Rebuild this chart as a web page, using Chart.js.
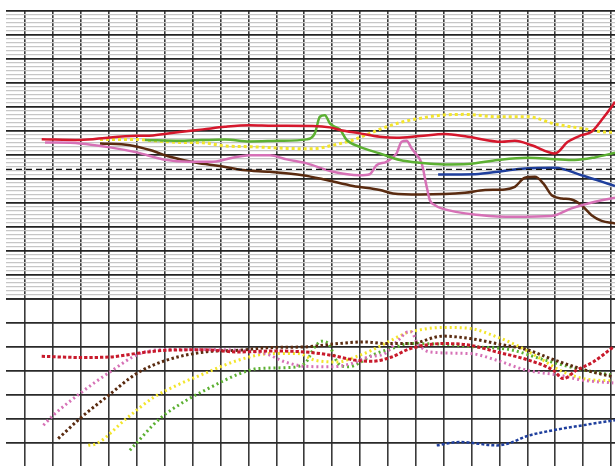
<!DOCTYPE html>
<html>
<head>
<meta charset="utf-8">
<script src="https://cdn.jsdelivr.net/npm/chart.js@4.4.1/dist/chart.umd.min.js"></script>
<style>
  html, body { margin: 0; padding: 0; background: #fff; overflow: hidden; }
  #wrap { width: 615px; height: 467px; }
</style>
</head>
<body>
<div id="wrap"><canvas id="chart" width="615" height="467"></canvas></div>
<script>
// x: grid column, top panel: minor steps (6 per heavy line), bottom panel: tens
const xRange = [-0.69, 21.14];
const xTicks = Array.from({ length: 22 }, (_, i) => i);
const topTicks = Array.from({ length: 73 }, (_, i) => i - 36);
const bottomTicks = [0, 10, 20, 30, 40, 50, 60, 70];
const refLevel = -3.65;

// top panel, solid lines (yellow dotted)
const redTop = [[0.59,3.9],[1.96,3.7],[3.04,4.35],[3.99,4.75],[4.58,4.85],[5.54,5.7],[6.37,6.35],[7.16,7.0],[8.05,7.4],[8.88,7.25],[10.31,7.2],[10.92,6.85],[11.28,6.2],[11.99,5.35],[12.71,4.5],[13.31,4.25],[14.15,4.7],[15.04,5.2],[15.87,4.5],[17.08,3.25],[17.55,3.5],[18.15,2.4],[18.99,0.35],[19.45,3.25],[19.94,4.9],[20.30,5.75],[20.66,8.7],[21.02,12.0],[21.14,13.25]];
const yellowTop = [[2.68,3.85],[3.75,3.85],[5.54,3.1],[6.37,3.0],[7.16,2.2],[8.16,2.0],[9.37,1.6],[10.31,1.5],[11.03,2.4],[11.75,3.7],[12.35,5.35],[12.95,7.0],[13.54,8.25],[14.15,9.1],[14.92,9.9],[15.76,10.1],[16.94,9.5],[18.02,9.5],[18.99,7.7],[19.94,6.6],[20.66,5.75],[21.14,5.6]];
const greenTop = [[4.29,3.7],[5.54,3.5],[7.16,3.85],[8.05,3.35],[9.13,3.5],[10.09,3.85],[10.38,5.35],[10.56,9.5],[10.74,9.9],[10.92,7.85],[11.10,7.0],[11.28,6.35],[11.52,3.7],[11.99,2.0],[12.71,0.35],[13.43,-1.3],[14.15,-2.0],[15.04,-2.4],[15.87,-2.3],[16.94,-1.3],[18.02,-0.75],[18.99,-1.1],[19.70,-1.3],[20.42,-0.65],[21.14,0.5]];
const pinkTop = [[0.71,3.1],[1.96,2.85],[3.04,1.85],[3.99,0.6],[4.95,-1.15],[5.90,-1.75],[6.73,-1.75],[7.16,-1.15],[8.05,-0.1],[8.77,-0.1],[9.37,-1.15],[10.09,-2.15],[11.03,-4.25],[11.99,-5.1],[12.35,-4.85],[12.59,-2.6],[12.95,-1.75],[13.31,0.35],[13.49,3.25],[13.67,3.5],[13.85,1.6],[13.97,0.5],[14.21,-2.15],[14.39,-8.0],[14.50,-11.3],[14.69,-12.6],[14.92,-13.4],[16.36,-15.1],[17.55,-15.5],[18.87,-15.3],[19.58,-13.4],[20.42,-11.75],[21.14,-10.75]];
const brownTop = [[2.68,2.85],[3.75,2.4],[4.47,1.2],[5.19,-0.5],[6.14,-2.0],[6.98,-2.8],[7.80,-3.8],[8.77,-4.25],[9.95,-5.1],[10.80,-6.3],[11.75,-7.8],[12.71,-8.8],[13.18,-9.65],[14.15,-9.9],[15.76,-9.5],[16.48,-8.8],[17.19,-8.65],[17.55,-8.0],[17.91,-5.75],[18.27,-5.5],[18.57,-7.15],[18.87,-10.1],[19.23,-10.9],[19.58,-11.15],[19.94,-12.6],[20.30,-15.1],[20.66,-16.5],[21.14,-17.15]];
const blueTop = [[14.80,-4.9],[16.12,-4.85],[17.08,-4.1],[17.91,-3.4],[18.99,-3.25],[19.94,-5.1],[21.14,-7.8]];

// bottom panel, dotted lines
const redBottom = [[0.59,46.1],[2.02,45.6],[3.04,45.8],[4.11,47.5],[5.07,48.6],[6.44,48.8],[7.63,47.9],[8.83,48.3],[10.02,47.9],[10.98,46.5],[11.82,44.5],[12.42,44.0],[13.13,45.8],[13.79,49.25],[14.98,51.4],[15.94,50.7],[16.90,47.9],[17.97,44.75],[18.92,40.3],[19.28,36.8],[19.76,40.3],[20.36,43.75],[21.08,50.0]];
const pinkBottom = [[0.65,17.4],[1.00,21.5],[1.96,30.6],[3.04,39.6],[4.11,47.25],[5.07,48.9],[6.44,48.9],[8.59,47.25],[9.31,43.75],[10.02,41.95],[10.98,41.7],[11.70,43.1],[12.29,45.8],[12.89,47.25],[13.37,52.8],[13.73,56.25],[13.85,56.25],[14.03,52.1],[14.50,47.9],[15.94,47.25],[16.90,44.45],[17.97,40.3],[19.16,38.2],[20.00,36.1],[21.08,35.0]];
const brownBottom = [[1.18,11.8],[2.02,20.8],[2.92,29.2],[3.99,38.9],[5.07,44.5],[6.44,47.9],[7.63,48.6],[8.83,49.75],[10.02,50.0],[11.22,51.4],[12.18,52.1],[12.89,51.4],[13.79,51.4],[14.98,54.5],[15.94,53.5],[17.01,51.1],[17.97,48.9],[18.92,44.75],[20.00,40.6],[21.08,37.5]];
const yellowBottom = [[2.26,9.0],[2.56,9.75],[3.63,20.2],[4.59,28.9],[5.43,34.0],[6.44,39.0],[7.63,44.45],[8.83,47.25],[9.78,47.25],[10.38,44.45],[11.22,43.75],[11.82,45.8],[12.42,48.6],[13.01,52.1],[13.61,55.6],[13.79,56.25],[14.98,58.1],[15.94,57.7],[16.90,54.2],[17.73,50.0],[18.57,44.45],[19.16,40.3],[20.00,36.8],[21.08,35.8]];
const greenBottom = [[3.75,7.0],[4.83,20.2],[5.78,27.8],[6.44,31.95],[7.63,38.6],[8.35,41.0],[9.43,41.4],[10.02,43.1],[10.38,50.0],[10.62,52.4],[10.86,51.4],[11.22,43.1],[11.58,41.7],[11.94,43.1],[12.42,46.5],[13.13,49.3],[13.79,51.4],[14.98,51.1],[16.18,50.0],[17.37,48.9],[18.57,44.75],[19.76,41.0],[21.08,38.2]];
const blueBottom = [[14.75,9.0],[15.58,10.4],[16.90,9.0],[17.37,10.0],[17.97,12.8],[18.92,15.3],[20.00,17.4],[21.14,19.5]];

const RED = '#d5172c', YELLOW = '#f3e52b', GREEN = '#5cb032', PINK = '#d671b6', BROWN = '#5a2b10', BLUE = '#1f3f9d';

const pts = arr => arr.map(p => ({ x: p[0], y: p[1] }));

const line = (data, color, axis, dash, width) => ({
    data: pts(data),
    yAxisID: axis,
    borderColor: color,
    borderWidth: width || 2.5,
    borderDash: dash || [],
    pointRadius: 0,
    fill: false
});

const datasets = [
    line([[xRange[0], refLevel], [xRange[1], refLevel]], '#111', 'y', [6, 4], 1.4),
    line(redTop, RED, 'y'),
    line(greenTop, GREEN, 'y'),
    line(pinkTop, PINK, 'y'),
    line(brownTop, BROWN, 'y'),
    line(blueTop, BLUE, 'y'),
    line(yellowTop, YELLOW, 'y', [3, 3], 3),
    line(redBottom, '#c81a2c', 'y2', [3.3, 2], 3),
    line(brownBottom, BROWN, 'y2', [2.5, 2.5], 3),
    line(pinkBottom, PINK, 'y2', [2, 3], 3),
    line(yellowBottom, YELLOW, 'y2', [2, 3], 3),
    line(greenBottom, GREEN, 'y2', [2, 3], 3),
    line(blueBottom, BLUE, 'y2', [3, 2], 2.5)
];

const fixTicks = list => scale => { scale.ticks = list.map(v => ({ value: v })); };

new Chart(document.getElementById('chart'), {
    type: 'line',
    data: { datasets: datasets },
    options: {
        responsive: false,
        animation: false,
        layout: { padding: { left: 6, top: 10.7, right: 0, bottom: 0 } },
        plugins: { legend: { display: false }, tooltip: { enabled: false } },
        elements: { line: { cubicInterpolationMode: 'monotone', borderCapStyle: 'butt' } },
        scales: {
            x: {
                type: 'linear',
                min: xRange[0],
                max: xRange[1],
                afterBuildTicks: fixTicks(xTicks),
                ticks: { display: false },
                border: { display: false },
                grid: { color: '#3a3a3a', lineWidth: 1.6, drawTicks: false }
            },
            y: {
                type: 'linear',
                stack: 'panels',
                stackWeight: 288,
                weight: 1,
                min: -36,
                max: 36,
                afterBuildTicks: fixTicks(topTicks),
                ticks: { display: false },
                border: { display: false },
                grid: {
                    drawTicks: false,
                    color: c => (c.tick.value % 6 === 0 ? '#222' : '#c6c6c6'),
                    lineWidth: c => (c.tick.value % 6 === 0 ? 1.8 : 1.3)
                }
            },
            y2: {
                type: 'linear',
                stack: 'panels',
                stackWeight: 168,
                weight: 0,
                min: 0,
                max: 70,
                afterBuildTicks: fixTicks(bottomTicks),
                ticks: { display: false },
                border: { display: false },
                grid: { drawTicks: false, color: '#2a2a2a', lineWidth: 1.8 }
            }
        }
    }
});
</script>
</body>
</html>
